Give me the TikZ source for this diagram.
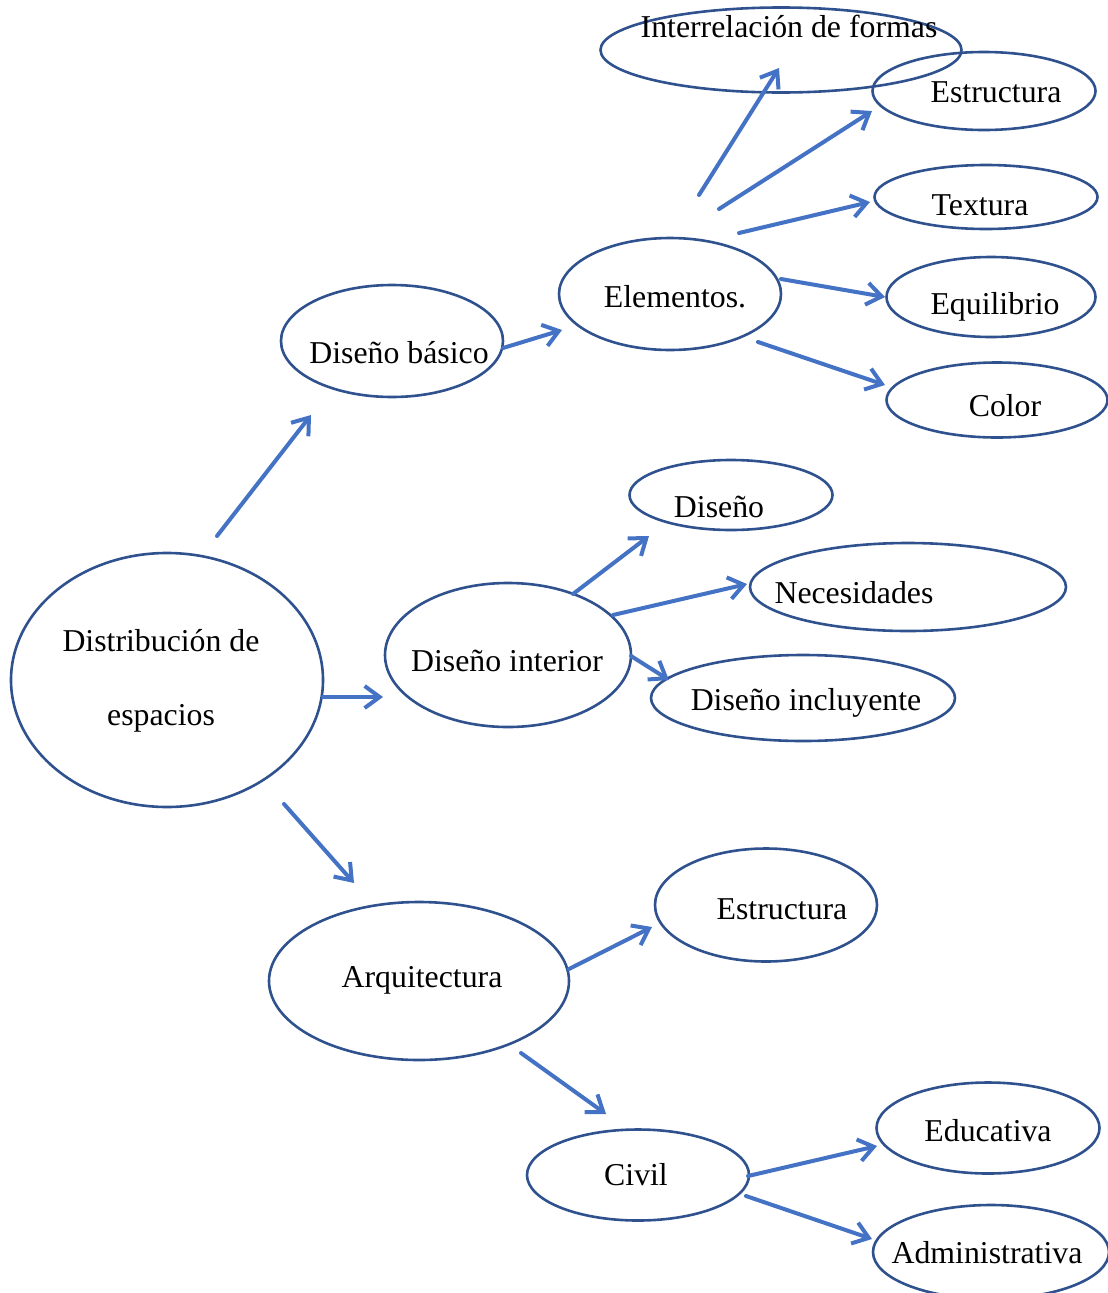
\documentclass[tikz,border=0pt]{standalone}
\usepackage{fontspec}
\setmainfont{Liberation Serif}
\usetikzlibrary{shapes.geometric,arrows.meta}
\definecolor{ovalblue}{HTML}{2F528F}
\definecolor{arrowblue}{HTML}{4472C4}
\tikzset{
  oval/.style={ellipse, draw=ovalblue, line width=2.6pt, inner sep=0pt},
  txt/.style={anchor=base, inner sep=0pt, font=\fontsize{31.8}{38}\selectfont},
  conn/.style={draw=arrowblue, line width=4pt, line cap=round,
    -{Straight Barb[length=15pt,width=22pt,line width=4pt]}}
}
\begin{document}
\begin{tikzpicture}[x=1pt,y=-1pt]
\useasboundingbox (0,0) rectangle (1108,1293);
\clip (0,0) rectangle (1108,1293);
% ovals
\node[oval, minimum width=312pt, minimum height=254pt] (dist) at (167,680) {};
\node[oval, minimum width=222pt, minimum height=112pt] (basico) at (392,341) {};
\node[oval, minimum width=222pt, minimum height=112pt] (elem) at (670,294) {};
\node[oval, minimum width=361pt, minimum height=85pt] (inter) at (781,50) {};
\node[oval, minimum width=223pt, minimum height=78pt] (estr1) at (984,91) {};
\node[oval, minimum width=223pt, minimum height=64pt] (text) at (986,197) {};
\node[oval, minimum width=209pt, minimum height=80pt] (equi) at (991,297) {};
\node[oval, minimum width=221pt, minimum height=75pt] (color) at (997,400) {};
\node[oval, minimum width=203pt, minimum height=70pt] (dis) at (731,495) {};
\node[oval, minimum width=316pt, minimum height=88pt] (nec) at (908,587) {};
\node[oval, minimum width=246pt, minimum height=144pt] (dint) at (508,655) {};
\node[oval, minimum width=304pt, minimum height=86pt] (dinc) at (803,698) {};
\node[oval, minimum width=222pt, minimum height=113pt] (estr2) at (766,905) {};
\node[oval, minimum width=300pt, minimum height=158pt] (arq) at (419,981) {};
\node[oval, minimum width=222pt, minimum height=91pt] (civil) at (638,1175) {};
\node[oval, minimum width=223pt, minimum height=91pt] (edu) at (988,1128) {};
\node[oval, minimum width=236pt, minimum height=94pt] (adm) at (991,1252) {};
% texts
\node[txt] (tdist1) at (161,651) {Distribución de};
\node[txt] (tdist2) at (161,725) {espacios};
\node[txt] (tbasico) at (399,363) {Diseño básico};
\node[txt] (telem) at (675,307) {Elementos.};
\node[txt] (tinter) at (789,37) {Interrelación de formas};
\node[txt] (testr1) at (996,102) {Estructura};
\node[txt] (ttext) at (980,215) {Textura};
\node[txt] (tequi) at (995,314) {Equilibrio};
\node[txt] (tcolor) at (1005,416) {Color};
\node[txt] (tdis) at (719,517) {Diseño};
\node[txt] (tnec) at (854,603) {Necesidades};
\node[txt] (tdint) at (507,671) {Diseño interior};
\node[txt] (tdinc) at (806,710) {Diseño incluyente};
\node[txt] (testr2) at (782,919) {Estructura};
\node[txt] (tarq) at (422,987) {Arquitectura};
\node[txt] (tcivil) at (636,1185) {Civil};
\node[txt] (tedu) at (988,1141) {Educativa};
\node[txt] (tadm) at (987,1263) {Administrativa};
% arrow endpoints
\coordinate (a1) at (217,536);  \coordinate (a2) at (311,415);
\coordinate (b1) at (503,348);  \coordinate (b2) at (562,330);
\coordinate (c1) at (699,195);  \coordinate (c2) at (779,68);
\coordinate (d1) at (719,209);  \coordinate (d2) at (872,111);
\coordinate (e1) at (739,233);  \coordinate (e2) at (870,202);
\coordinate (f1) at (781,279);  \coordinate (f2) at (885,297);
\coordinate (g1) at (758,342);  \coordinate (g2) at (885,385);
\coordinate (h1) at (323,697);  \coordinate (h2) at (383,697);
\coordinate (i1) at (573,594);  \coordinate (i2) at (649,536);
\coordinate (j1) at (613,615);  \coordinate (j2) at (747,584);
\coordinate (k1) at (631,656);  \coordinate (k2) at (669,680);
\coordinate (l1) at (284,804);  \coordinate (l2) at (354,883);
\coordinate (m1) at (569,969);  \coordinate (m2) at (652,927);
\coordinate (n1) at (521,1053); \coordinate (n2) at (606,1114);
\coordinate (o1) at (748,1176); \coordinate (o2) at (877,1146);
\coordinate (p1) at (746,1196); \coordinate (p2) at (872,1239);
% connectors
\foreach \s in {a,b,c,d,e,f,g,h,i,j,k,l,m,n,o,p}
  \draw[conn] (\s1) -- (\s2);
\end{tikzpicture}
\end{document}
